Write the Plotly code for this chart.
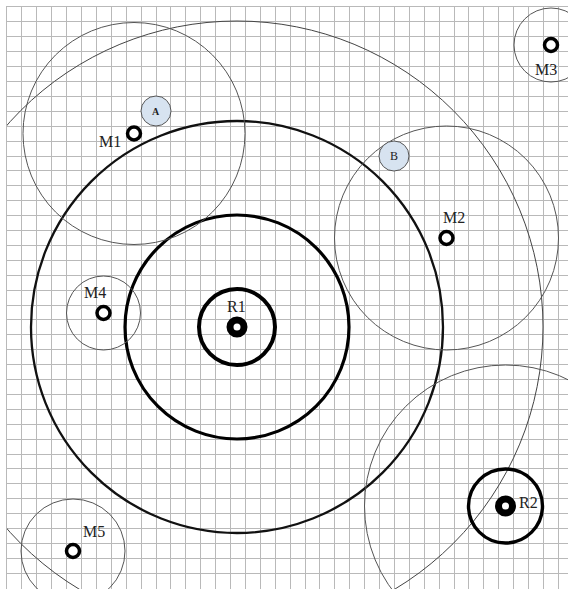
import plotly.graph_objects as go

# site positions (drawing units: one unit = one pixel of the sheet, origin top-left)
site_names = ["R1", "R2", "M1", "M2", "M3", "M4", "M5"]
site_x = [237, 505.5, 134, 446.5, 551, 103.5, 73]
site_y = [327, 506, 133.5, 238, 45, 313, 551]

# range rings: (site, radius)
ring_site = ["R1", "R1", "R1", "R1", "R2", "R2", "M1", "M2", "M3", "M4", "M5"]
ring_radius = [38, 112, 206, 306, 37, 141, 111, 112, 37, 37, 52]

# labelled points A and B
pt_names = ["A", "B"]
pt_x = [156, 394]
pt_y = [111, 156]
pt_radius = [15, 15]

# sheet size in drawing units
sheet_w, sheet_h = 568, 589
grid_step = 14.9
grid_start = 7

ring_style = {
    0: dict(width=4, color="#000000"),
    1: dict(width=3.2, color="#000000"),
    2: dict(width=2.3, color="#111111"),
    3: dict(width=1, color="#444444"),
    4: dict(width=3.4, color="#000000"),
}
thin_ring = dict(width=1, color="#555555")

pos = {n: (x, y) for n, x, y in zip(site_names, site_x, site_y)}

shapes = []
for i, (s, r) in enumerate(zip(ring_site, ring_radius)):
    cx, cy = pos[s]
    shapes.append(dict(
        type="circle", xref="x", yref="y",
        x0=cx - r, x1=cx + r, y0=cy - r, y1=cy + r,
        line=ring_style.get(i, thin_ring), layer="above",
    ))
for n, x, y, r in zip(pt_names, pt_x, pt_y, pt_radius):
    shapes.append(dict(
        type="circle", xref="x", yref="y",
        x0=x - r, x1=x + r, y0=y - r, y1=y + r,
        line=dict(width=1, color="#555555"), fillcolor="#d7e3f0", layer="above",
    ))

fig = go.Figure()

# receivers: black disc with white hole; monitors: open rings
is_r = [n.startswith("R") for n in site_names]
fig.add_trace(go.Scatter(
    x=[x for x, r in zip(site_x, is_r) if r],
    y=[y for y, r in zip(site_y, is_r) if r],
    mode="markers", cliponaxis=False, hoverinfo="skip",
    marker=dict(symbol="circle", size=14, color="white",
                line=dict(color="black", width=7)),
))
fig.add_trace(go.Scatter(
    x=[x for x, r in zip(site_x, is_r) if not r],
    y=[y for y, r in zip(site_y, is_r) if not r],
    mode="markers", cliponaxis=False, hoverinfo="skip",
    marker=dict(symbol="circle", size=13, color="white",
                line=dict(color="black", width=3.5)),
))

label_offset = {
    "R1": (-1, 21), "R2": (23, 4), "M1": (-24, -8), "M2": (7, 21),
    "M3": (-5, -24), "M4": (-9, 21), "M5": (21, 20),
}
annotations = []
for n, x, y in zip(site_names, site_x, site_y):
    dx, dy = label_offset[n]
    annotations.append(dict(
        x=x, y=y, xref="x", yref="y", text=n, showarrow=False,
        xshift=dx, yshift=dy, xanchor="center", yanchor="middle",
        font=dict(family="Liberation Serif", size=16, color="#222222"),
    ))
for n, x, y in zip(pt_names, pt_x, pt_y):
    annotations.append(dict(
        x=x, y=y, xref="x", yref="y", text=f"<b>{n}</b>" if n == "A" else n,
        showarrow=False, xanchor="center", yanchor="middle",
        font=dict(family="Liberation Serif", size=10 if n == "A" else 12, color="#222222"),
    ))


def grid_vals(end):
    vals, v = [], grid_start
    while v <= end:
        vals.append(v)
        v += grid_step
    return vals


axis_common = dict(
    showgrid=True, gridcolor="#b9b9b9", gridwidth=1,
    showticklabels=False, ticks="",
    zeroline=False, showline=True, linecolor="#b9b9b9", linewidth=1,
    fixedrange=True,
)
fig.update_layout(
    width=sheet_w, height=sheet_h,
    margin=dict(l=grid_start, t=grid_start, r=0, b=0, pad=0),
    paper_bgcolor="white", plot_bgcolor="white",
    showlegend=False,
    xaxis=dict(range=[grid_start, sheet_w], side="top",
               tickmode="array", tickvals=grid_vals(sheet_w), **axis_common),
    yaxis=dict(range=[sheet_h, grid_start],
               tickmode="array", tickvals=grid_vals(sheet_h), **axis_common),
    shapes=shapes, annotations=annotations,
)

# page body has a default 8px margin; drop it so the sheet sits at the corner
fig.write_html("out.html", config={"displayModeBar": False},
               post_script="document.body.style.margin='0';")
